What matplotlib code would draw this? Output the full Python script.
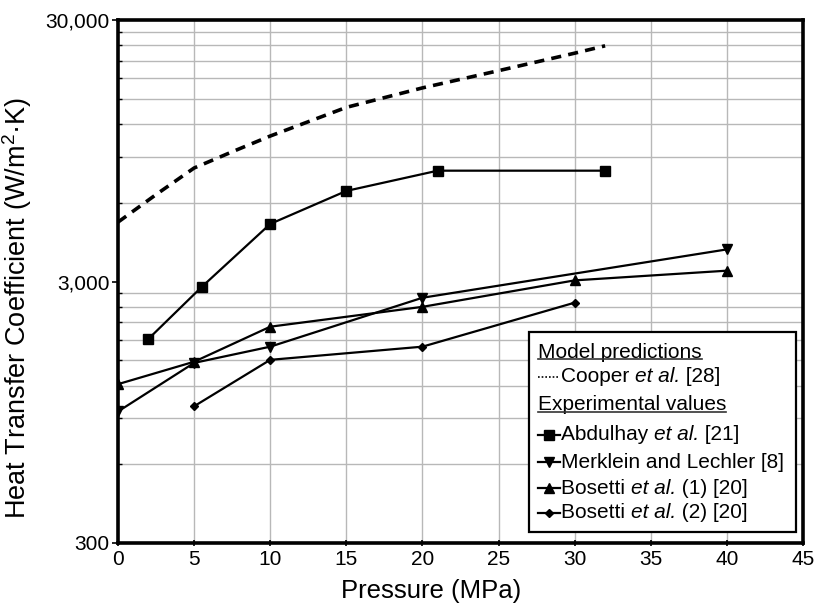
import matplotlib
matplotlib.use("Agg")
import matplotlib.pyplot as plt
from matplotlib.lines import Line2D
from matplotlib.patches import Rectangle
from matplotlib.ticker import FixedLocator, NullFormatter

plt.rcParams['font.family'] = ['Liberation Sans', 'DejaVu Sans']
plt.rcParams['mathtext.fontset'] = 'custom'
plt.rcParams['mathtext.rm'] = 'Liberation Sans'
plt.rcParams['mathtext.it'] = 'Liberation Sans:italic'

# Model prediction (Cooper et al.)
cooper_p = [0, 2.5, 5, 7.5, 10, 12.5, 15, 20, 25, 30, 32]
cooper_h = [5060, 6450, 8150, 9400, 10800, 12250, 13900, 16500, 19200, 22400, 23900]

# Experimental values
abdulhay_p = [2, 5.5, 10, 15, 21, 32]
abdulhay_h = [1810, 2860, 4980, 6660, 7960, 7960]

merklein_p = [0, 5, 10, 20, 40]
merklein_h = [955, 1465, 1690, 2600, 3980]

bosetti1_p = [0, 5, 10, 20, 30, 40]
bosetti1_h = [1215, 1480, 2015, 2400, 3030, 3300]

bosetti2_p = [5, 10, 20, 30]
bosetti2_h = [1000, 1505, 1690, 2490]

x_ticks = [0, 5, 10, 15, 20, 25, 30, 35, 40, 45]
y_ticks = [300, 3000, 30000]
y_tick_labels = ['300', '3,000', '30,000']
y_grid = [300 * k for k in range(2, 10)] + [3000 * k for k in range(2, 10)]

fig = plt.figure(figsize=(8.17, 6.06), dpi=100)
ax = fig.add_axes([118 / 817, 1 - 543 / 606, 685 / 817, 523 / 606])

ax.set_yscale('log')
ax.set_xlim(0, 45)
ax.set_ylim(300, 30000)

# grid
for v in x_ticks[1:-1]:
    ax.axvline(v, color='#b8b8b8', lw=1.0, zorder=0)
for v in y_grid:
    ax.axhline(v, color='#b8b8b8', lw=1.0, zorder=0)

line_kw = dict(color='black', lw=1.6, zorder=3)
ax.plot(cooper_p, cooper_h, color='black', lw=2.6, linestyle=(0, (2.8, 2.0)), zorder=3)
ax.plot(abdulhay_p, abdulhay_h, marker='s', ms=7.5, **line_kw)
ax.plot(merklein_p, merklein_h, marker='v', ms=7.5, **line_kw)
ax.plot(bosetti1_p, bosetti1_h, marker='^', ms=7.5, **line_kw)
ax.plot(bosetti2_p, bosetti2_h, marker='D', ms=4.5, **line_kw)

# axes styling
for s in ax.spines.values():
    s.set_linewidth(2.6)
    s.set_color('black')

ax.xaxis.set_major_locator(FixedLocator(x_ticks))
ax.yaxis.set_major_locator(FixedLocator(y_ticks))
ax.set_yticklabels(y_tick_labels)
ax.yaxis.set_minor_locator(FixedLocator(y_grid))
ax.yaxis.set_minor_formatter(NullFormatter())
ax.tick_params(axis='both', which='major', labelsize=15, colors='black', width=1.2)
ax.tick_params(axis='y', which='major', direction='out', length=4, pad=2)
ax.tick_params(axis='y', which='minor', direction='in', length=3, width=1.0)
ax.tick_params(axis='x', which='major', direction='inout', length=4, pad=3)

ax.set_xlabel('Pressure (MPa)', fontsize=18.5)
ax.xaxis.set_label_coords(0.457, -0.068)
ax.set_ylabel('Heat Transfer Coefficient (W/m$^2$·K)', fontsize=19.5)
ax.yaxis.set_label_coords(-0.122, 0.45)


# legend drawn in axes fraction coordinates
def fx(px):
    return (px - 118) / 685


def fy(py):
    return (543 - py) / 523


T = ax.transAxes
ax.add_patch(Rectangle((fx(529), fy(532)), fx(796) - fx(529), fy(332) - fy(532),
                       transform=T, facecolor='white', edgecolor='black', lw=1.6, zorder=5))

fs = 15
hx0, hx1, hm, tx = fx(538), fx(560), fx(549), fx(561)

fig.canvas.draw()
renderer = fig.canvas.get_renderer()
inv = T.inverted()


def rich_text(x, y, pieces):
    """Write consecutive normal/italic pieces on one line."""
    for txt, style in pieces:
        t = ax.text(x, y, txt, transform=T, fontsize=fs, va='center', ha='left',
                    style=style, zorder=6)
        bb = t.get_window_extent(renderer=renderer)
        x = inv.transform([bb.x1, bb.y0])[0]


headers = [('Model predictions', 352), ('Experimental values', 405)]
for label, py in headers:
    t = ax.text(fx(538), fy(py), label, transform=T, fontsize=fs, va='center', ha='left', zorder=6)
    bb = t.get_window_extent(renderer=renderer)
    (x0, y0), (x1, _) = inv.transform([[bb.x0, bb.y0], [bb.x1, bb.y1]])
    ax.add_line(Line2D([x0, x1], [y0 + 0.004, y0 + 0.004], transform=T,
                       color='#333333', lw=1.2, zorder=6))

ax.add_line(Line2D([hx0, hx1], [fy(377), fy(377)], transform=T, color='black', lw=1.2,
                   linestyle=(0, (1, 1.2)), zorder=6))
rich_text(tx, fy(377), [('Cooper ', 'normal'), ('et al.', 'italic'), (' [28]', 'normal')])

entries = [
    ('s', 7.5, [('Abdulhay ', 'normal'), ('et al.', 'italic'), (' [21]', 'normal')], 435),
    ('v', 7.5, [('Merklein and Lechler [8]', 'normal')], 462),
    ('^', 7.5, [('Bosetti ', 'normal'), ('et al.', 'italic'), (' (1) [20]', 'normal')], 488),
    ('D', 4.5, [('Bosetti ', 'normal'), ('et al.', 'italic'), (' (2) [20]', 'normal')], 513),
]
for m, ms, pieces, py in entries:
    ax.add_line(Line2D([hx0, hx1], [fy(py), fy(py)], transform=T, color='black', lw=1.6, zorder=6))
    ax.add_line(Line2D([hm], [fy(py)], transform=T, marker=m, ms=ms, color='black', zorder=7))
    rich_text(tx, fy(py), pieces)

fig.savefig('out.png', dpi=100)
